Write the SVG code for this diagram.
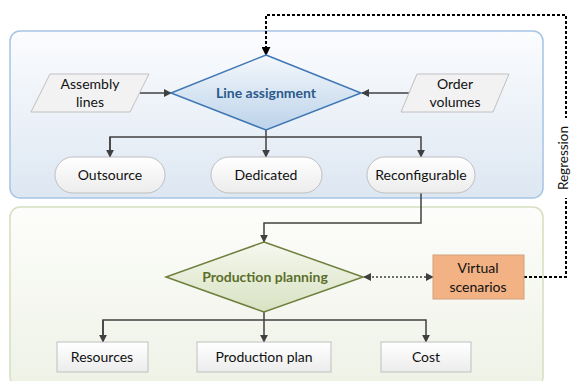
<svg xmlns="http://www.w3.org/2000/svg" width="571" height="381" viewBox="0 0 571 381">
<defs>
<linearGradient id="gTop" x1="0" y1="0" x2="0" y2="1"><stop offset="0" stop-color="#fbfcfe"/><stop offset="1" stop-color="#dde7f2"/></linearGradient>
<linearGradient id="gBot" x1="0" y1="0" x2="0" y2="1"><stop offset="0" stop-color="#fdfdfb"/><stop offset="1" stop-color="#eef2e6"/></linearGradient>
<linearGradient id="gD1" x1="0" y1="0" x2="0" y2="1"><stop offset="0" stop-color="#f4f8fc"/><stop offset="1" stop-color="#bcd3ea"/></linearGradient>
<linearGradient id="gD2" x1="0" y1="0" x2="0" y2="1"><stop offset="0" stop-color="#f6f8f0"/><stop offset="1" stop-color="#d8e2c2"/></linearGradient>
<linearGradient id="gN" x1="0" y1="0" x2="0" y2="1"><stop offset="0" stop-color="#ffffff"/><stop offset="1" stop-color="#ececec"/></linearGradient>
<marker id="ah" viewBox="0 0 10 10" refX="9" refY="5" markerWidth="8" markerHeight="8" markerUnits="userSpaceOnUse" orient="auto-start-reverse"><path d="M0,0 L10,5 L0,10 z" fill="#404040"/></marker>
<marker id="ahk" viewBox="0 0 10 10" refX="9" refY="5" markerWidth="9" markerHeight="9" markerUnits="userSpaceOnUse" orient="auto"><path d="M0,0 L10,5 L0,10 z" fill="#000"/></marker>
</defs>
<style>
text{font-family:Lato,"Open Sans","Liberation Sans",sans-serif;font-size:14px;fill:#111;text-anchor:middle}
.node{fill:url(#gN);stroke:#bfbfbf;stroke-width:1}
.par{fill:#f2f2f2;stroke:#c0c0c0;stroke-width:1}
.c{fill:none;stroke:#404040;stroke-width:1.5}
.dot{fill:none;stroke:#404040;stroke-width:1.3;stroke-dasharray:2,2}
.dash{fill:none;stroke:#000;stroke-width:2;stroke-dasharray:3,2}
.b{font-weight:bold}
</style>
<g id="panel-top"><rect x="10" y="31" width="533" height="167" rx="10" fill="url(#gTop)" stroke="#a6c4e3" stroke-width="1.5"/></g>
<g id="panel-bottom"><rect x="10" y="207" width="533" height="180" rx="10" fill="url(#gBot)" stroke="#d4e0bf" stroke-width="1.5"/></g>

<g id="connectors">
<path class="c" d="M140,93 H171" marker-end="url(#ah)"/>
<path class="c" d="M410,93 H362" marker-end="url(#ah)"/>
<path class="c" d="M266,130 V157" marker-end="url(#ah)"/>
<path class="c" d="M110,157 V137 H421 V157" marker-end="url(#ah)"/>
<path class="c" d="M110,137 V157" marker-end="url(#ah)"/>
<path class="c" d="M421,193 V223 H264 V242" marker-end="url(#ah)"/>
<path class="c" d="M264,312 V342" marker-end="url(#ah)"/>
<path class="c" d="M103,342 V320 H426 V342" marker-end="url(#ah)"/>
<path class="c" d="M103,320 V342" marker-end="url(#ah)"/>
<path class="dot" d="M364,277 H433" marker-start="url(#ah)" marker-end="url(#ah)"/>
<path class="dash" d="M524,277 H566 V15 H266 V55" marker-end="url(#ahk)"/>
</g>

<g id="line-assignment">
<polygon points="266,55 361,93 266,130 171,93" fill="url(#gD1)" stroke="#3f77b5" stroke-width="1.5"/>
<text x="266" y="98" class="b" style="fill:#2c5a8c">Line assignment</text>
</g>
<g id="assembly-lines">
<polygon class="par" points="50,74 149,74 130,112 31,112"/>
<text x="90" y="89">Assembly</text><text x="90" y="107">lines</text>
</g>
<g id="order-volumes">
<polygon class="par" points="417,74 509,74 493,112 401,112"/>
<text x="455" y="89">Order</text><text x="455" y="107">volumes</text>
</g>
<g id="outsource"><rect class="node" x="55" y="157" width="110" height="36" rx="18"/><text x="110" y="180">Outsource</text></g>
<g id="dedicated"><rect class="node" x="211" y="157" width="111" height="36" rx="18"/><text x="266" y="180">Dedicated</text></g>
<g id="reconfigurable"><rect class="node" x="367" y="157" width="108" height="36" rx="18"/><text x="421" y="180">Reconfigurable</text></g>

<g id="production-planning">
<polygon points="264,242 363,277 264,312 166,277" fill="url(#gD2)" stroke="#6e7f3c" stroke-width="1.5"/>
<text x="265" y="282" class="b" style="fill:#5b6e2c">Production planning</text>
</g>
<g id="virtual-scenarios">
<rect x="433" y="255" width="91" height="44" fill="#f2b283" stroke="#d0a17c" stroke-width="1"/>
<text x="478" y="273">Virtual</text><text x="478" y="292">scenarios</text>
</g>
<g id="resources"><rect class="node" x="57" y="342" width="91" height="30"/><text x="102" y="362">Resources</text></g>
<g id="production-plan"><rect class="node" x="197" y="342" width="134" height="30"/><text x="264" y="362">Production plan</text></g>
<g id="cost"><rect class="node" x="381" y="342" width="90" height="30"/><text x="426" y="362">Cost</text></g>

<g id="regression-label">
<rect x="557" y="118" width="14" height="80" fill="#fff"/>
<text transform="translate(568,158) rotate(-90)" x="0" y="0" style="font-size:13.5px">Regression</text>
</g>
</svg>
